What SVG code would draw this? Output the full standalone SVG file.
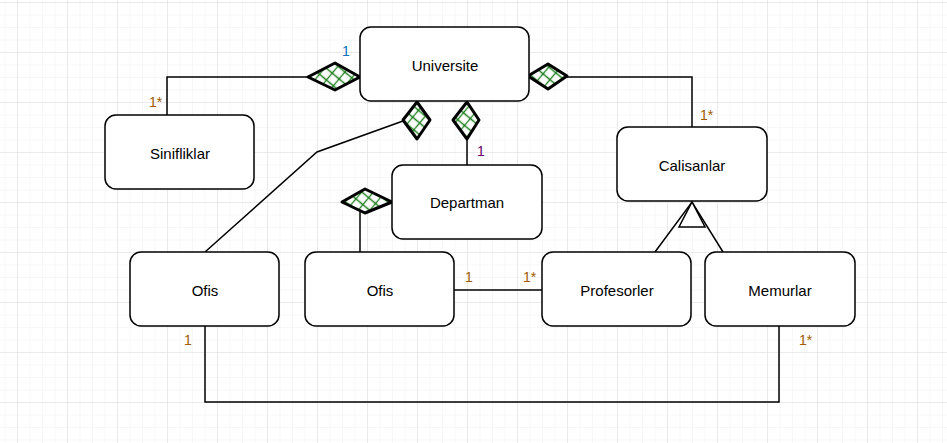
<svg xmlns="http://www.w3.org/2000/svg" width="947" height="443" viewBox="0 0 947 443">
  <defs>
    <pattern id="minor" patternUnits="userSpaceOnUse" x="17" y="2" width="12.5" height="12.5">
      <path d="M0 0 H12.5 M0 0 V12.5" stroke="#f0f0f0" stroke-width="1" fill="none"/>
    </pattern>
    <pattern id="major" patternUnits="userSpaceOnUse" x="17" y="2" width="50" height="50">
      <path d="M0 0 H50 M0 0 V50" stroke="#dddddd" stroke-width="1" fill="none"/>
    </pattern>
    <pattern id="hatch" patternUnits="userSpaceOnUse" width="9" height="9" patternTransform="rotate(40)">
      <rect width="9" height="9" fill="#ffffff"/>
      <path d="M0 4.5 H9 M4.5 0 V9" stroke="#1f7f1f" stroke-width="1.3"/>
    </pattern>
  </defs>
  <style>
    .box { fill: #ffffff; stroke: #000000; stroke-width: 1.5; }
    .lbl { font-family: "Liberation Sans", Arial, sans-serif; font-size: 15px; fill: #000000; text-anchor: middle; dominant-baseline: central; }
    .edge { fill: none; stroke: #000000; stroke-width: 1.5; }
    .dia { fill: url(#hatch); stroke: #000000; stroke-width: 3; stroke-linejoin: round; }
    .tri { fill: #ffffff; stroke: #000000; stroke-width: 1.5; stroke-linejoin: miter; }
    .mult { font-family: "Liberation Sans", Arial, sans-serif; font-size: 14px; fill: #a05a00; }
  </style>
  <rect width="947" height="443" fill="#ffffff"/>
  <rect width="947" height="443" fill="url(#minor)"/>
  <rect width="947" height="443" fill="url(#major)"/>

  <g id="connectors">
    <polyline class="edge" points="167,115 167,77 308,77"/>
    <polyline class="edge" points="567,77 692,77 692,127"/>
    <polyline class="edge" points="205,252 317,152 403,121"/>
    <line class="edge" x1="467" y1="139" x2="467" y2="165"/>
    <line class="edge" x1="360" y1="212" x2="360" y2="252"/>
    <line class="edge" x1="454" y1="290" x2="542" y2="290"/>
    <polyline class="edge" points="655,252 692,202 723,252"/>
    <polyline class="edge" points="205,326 205,402 779,402 779,326"/>
    <polygon class="dia" points="308,77 335,63 360,77 335,90"/>
    <polygon class="dia" points="528,76 548,64 567,76 548,89"/>
    <polygon class="dia" points="417,102 430,120 417,139 403,120"/>
    <polygon class="dia" points="467,102 479,120 467,139 453,120"/>
    <polygon class="dia" points="342,202 365,189 392,202 365,213"/>
    <polygon class="tri" points="692,202 705,227 679,227"/>
    <text class="mult" x="342" y="56" style="fill:#0070c0">1</text>
    <text class="mult" x="149" y="107">1*</text>
    <text class="mult" x="477" y="156" style="fill:#660066">1</text>
    <text class="mult" x="700" y="120">1*</text>
    <text class="mult" x="465" y="282">1</text>
    <text class="mult" x="523" y="282">1*</text>
    <text class="mult" x="184" y="345">1</text>
    <text class="mult" x="799" y="345">1*</text>
  </g>

  <g id="universite">
    <rect class="box" x="360" y="27" width="169" height="74" rx="11"/>
    <text class="lbl" x="445" y="65">Universite</text>
  </g>
  <g id="sinifliklar">
    <rect class="box" x="105" y="115" width="149" height="74" rx="11"/>
    <text class="lbl" x="180" y="153">Sinifliklar</text>
  </g>
  <g id="departman">
    <rect class="box" x="392" y="165" width="150" height="74" rx="11"/>
    <text class="lbl" x="467" y="202">Departman</text>
  </g>
  <g id="calisanlar">
    <rect class="box" x="617" y="127" width="150" height="74" rx="11"/>
    <text class="lbl" x="692" y="165">Calisanlar</text>
  </g>
  <g id="ofis1">
    <rect class="box" x="130" y="252" width="149" height="74" rx="11"/>
    <text class="lbl" x="205" y="290">Ofis</text>
  </g>
  <g id="ofis2">
    <rect class="box" x="305" y="252" width="149" height="74" rx="11"/>
    <text class="lbl" x="380" y="290">Ofis</text>
  </g>
  <g id="profesorler">
    <rect class="box" x="542" y="252" width="149" height="74" rx="11"/>
    <text class="lbl" x="617" y="290">Profesorler</text>
  </g>
  <g id="memurlar">
    <rect class="box" x="705" y="252" width="150" height="74" rx="11"/>
    <text class="lbl" x="780" y="290">Memurlar</text>
  </g>
</svg>
